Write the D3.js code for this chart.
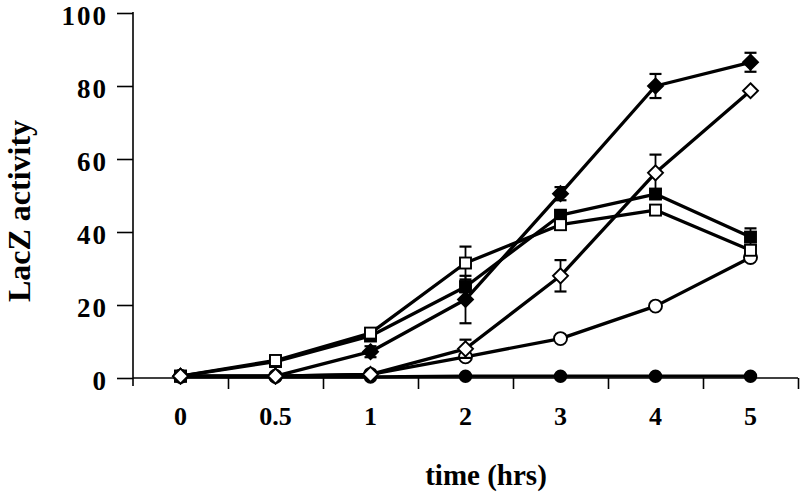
<!DOCTYPE html>
<html>
<head>
<meta charset="utf-8">
<script src="https://cdn.jsdelivr.net/npm/d3@7"></script>
<style>
  html, body { margin: 0; padding: 0; background: #fff; }
  svg { display: block; }
  text { font-family: "Liberation Serif", "Times New Roman", serif; font-weight: bold; fill: #000; }
</style>
</head>
<body>
<svg id="chart" width="800" height="493"></svg>
<script>
// ---- data ----
const categories = ["0", "0.5", "1", "2", "3", "4", "5"];
const yTicks = [0, 20, 40, 60, 80, 100];

const filledDiamond = [0.5, 0.5, 7.2, 21.5, 50.5, 80, 86.5];
const filledDiamondErr = [0, 0, 1.5, 6.5, 1.8, 3.3, 2.6];
const openDiamond = [0.5, 0.5, 1, 8, 28, 56.2, 78.7];
const openDiamondErr = [0, 0, 0, 2.5, 4.3, 5, 0];
const filledSquare = [0.5, 4.5, 11.5, 25, 44.6, 50.4, 38.6];
const filledSquareErr = [0, 0, 0, 1.5, 1, 1.2, 2.4];
const openSquare = [0.5, 4.8, 12.3, 31.5, 42, 46, 35];
const openSquareErr = [0, 0, 0, 4.5, 0, 0, 0];
const openCircle = [0.5, 0.5, 1, 5.8, 10.8, 19.7, 33];
const filledCircle = [0.3, 0.3, 0.3, 0.5, 0.5, 0.5, 0.5];

const series = [
  { values: filledCircle, err: null, shape: "circle", filled: true },
  { values: openCircle, err: null, shape: "circle", filled: false },
  { values: filledSquare, err: filledSquareErr, shape: "square", filled: true },
  { values: openSquare, err: openSquareErr, shape: "square", filled: false },
  { values: filledDiamond, err: filledDiamondErr, shape: "diamond", filled: true },
  { values: openDiamond, err: openDiamondErr, shape: "diamond", filled: false }
];

// ---- layout ----
const svg = d3.select("#chart");
const mLeft = 133, mRight = 798, mTop = 13, mBottom = 378;

const x = d3.scaleBand().domain(categories).range([mLeft, mRight]).padding(0);
const xEdge = d3.scaleLinear().domain([0, categories.length]).range([mLeft, mRight]);
const y = d3.scaleLinear().domain([0, 100]).range([mBottom, mTop]);
const cx = c => x(c) + x.bandwidth() / 2;

// y axis
const yAxis = d3.axisLeft(y).tickValues(yTicks).tickSize(16).tickPadding(9).tickFormat(d3.format("d"));
const gy = svg.append("g").attr("transform", `translate(${mLeft},0)`).call(yAxis);
gy.select(".domain").remove();
gy.selectAll(".tick line").attr("stroke", "#000").attr("stroke-width", 1.6);
gy.selectAll(".tick text").style("font-size", "27px").style("letter-spacing", "2px").attr("dy", "11px")
  .style("font-family", "'Liberation Serif', serif").style("font-weight", "bold");
svg.append("line").attr("x1", mLeft).attr("x2", mLeft).attr("y1", mTop - 1).attr("y2", mBottom + 8)
  .attr("stroke", "#000").attr("stroke-width", 1.6);

// x axis
const xAxis = d3.axisBottom(xEdge).tickValues(d3.range(1, categories.length + 1)).tickSize(11).tickFormat("");
const gx = svg.append("g").attr("transform", `translate(0,${mBottom})`).call(xAxis);
gx.select(".domain").remove();
gx.selectAll(".tick line").attr("stroke", "#000").attr("stroke-width", 1.6);
svg.append("line").attr("x1", mLeft).attr("x2", mRight).attr("y1", mBottom).attr("y2", mBottom)
  .attr("stroke", "#000").attr("stroke-width", 1.6);

svg.append("g").selectAll("text").data(categories).join("text")
  .attr("x", d => cx(d)).attr("y", 425)
  .attr("text-anchor", "middle").style("font-size", "26px").text(d => d);

// axis titles
svg.append("text").attr("x", 486).attr("y", 485).attr("text-anchor", "middle")
  .style("font-size", "29px").text("time (hrs)");
svg.append("text").attr("transform", "translate(30,211) rotate(-90)").attr("text-anchor", "middle")
  .style("font-size", "32px").text("LacZ activity");

// series
const line = d3.line().x((d, i) => cx(categories[i])).y(d => y(d));
const plot = svg.append("g");

series.forEach(s => {
  const g = plot.append("g");
  g.append("path").datum(s.values).attr("d", line)
    .attr("fill", "none").attr("stroke", "#000").attr("stroke-width", 3.3).attr("stroke-linejoin", "round");
  if (s.err) {
    s.values.forEach((v, i) => {
      const e = s.err[i];
      if (!e) return;
      const xc = cx(categories[i]);
      const eg = g.append("g").attr("stroke", "#000").attr("stroke-width", 1.8);
      eg.append("line").attr("x1", xc).attr("x2", xc).attr("y1", y(v + e)).attr("y2", y(v - e));
      eg.append("line").attr("x1", xc - 6).attr("x2", xc + 6).attr("y1", y(v + e)).attr("y2", y(v + e)).attr("stroke-width", 2.2);
      eg.append("line").attr("x1", xc - 6).attr("x2", xc + 6).attr("y1", y(v - e)).attr("y2", y(v - e)).attr("stroke-width", 2.2);
    });
  }
  const fill = s.filled ? "#000" : "#fff";
  s.values.forEach((v, i) => {
    const xc = cx(categories[i]), yc = y(v);
    let m;
    if (s.shape === "circle") {
      m = g.append("circle").attr("cx", xc).attr("cy", yc).attr("r", s.filled ? 5.8 : 6.5);
    } else if (s.shape === "square") {
      m = g.append("rect").attr("x", xc - 5.5).attr("y", yc - 5.5).attr("width", 11).attr("height", 11);
    } else {
      const r = 7.5;
      m = g.append("path").attr("d", `M${xc},${yc - r}L${xc + r},${yc}L${xc},${yc + r}L${xc - r},${yc}Z`);
    }
    m.attr("fill", fill).attr("stroke", "#000").attr("stroke-width", 1.9);
  });
});
</script>
</body>
</html>
